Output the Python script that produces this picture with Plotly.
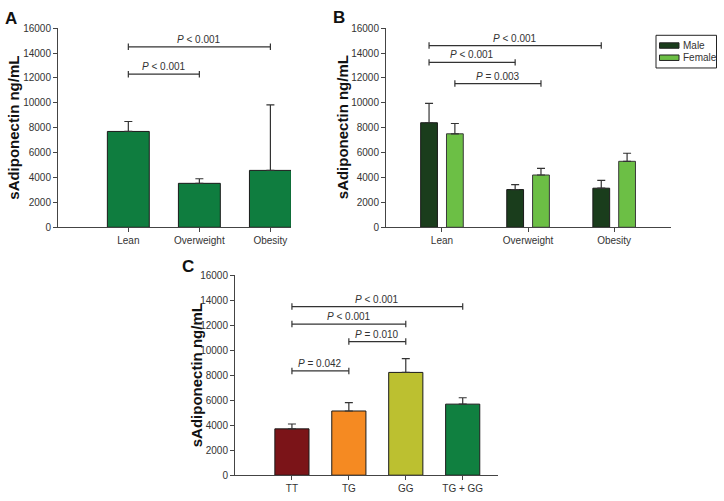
import plotly.graph_objects as go

# ---------------- data ----------------
a_categories = ["Lean", "Overweight", "Obesity"]
a_values = [7700, 3530, 4570]
a_errors = [800, 370, 5270]

b_categories = ["Lean", "Overweight", "Obesity"]
b_series = ["Male", "Female"]
b_male = [8400, 3030, 3140]
b_male_err = [1550, 390, 630]
b_female = [7510, 4200, 5300]
b_female_err = [830, 530, 650]
b_colors = ["#1a3d1c", "#6cbf45"]

c_categories = ["TT", "TG", "GG", "TG + GG"]
c_values = [3710, 5140, 8230, 5690]
c_errors = [390, 670, 1110, 510]
c_colors = ["#7b1418", "#f58a22", "#bcc030", "#108040"]

y_ticks = [0, 2000, 4000, 6000, 8000, 10000, 12000, 14000, 16000]
y_tick_labels = ["0", "2000", "4000", "6000", "8000", "10000", "12000", "14000", "16000"]

# significance brackets: (start position, end position, level, label)
a_brackets = [(0, 2, 14500, "<i>P</i> < 0.001"), (0, 1, 12300, "<i>P</i> < 0.001")]
b_brackets = [(-0.15, 1.85, 14600, "<i>P</i> < 0.001"),
              (-0.15, 0.85, 13250, "<i>P</i> < 0.001"),
              (0.15, 1.15, 11550, "<i>P</i> = 0.003")]
c_brackets = [(0, 3, 13500, "<i>P</i> < 0.001"), (0, 2, 12100, "<i>P</i> < 0.001"),
              (1, 2, 10700, "<i>P</i> = 0.010"), (0, 1, 8350, "<i>P</i> = 0.042")]

W, H = 724, 501
FONT = "Liberation Sans, Arial, sans-serif"
TXT = "#333333"
LINE = "#444444"

fig = go.Figure()

def err(arr):
    return dict(type="data", array=arr, arrayminus=[0] * len(arr), symmetric=False,
                color="#333333", thickness=1.2, width=4)

fig.add_trace(go.Bar(x=list(range(len(a_categories))), y=a_values, width=0.59,
                     marker=dict(color="#0f7d3f", line=dict(color="#1a1a1a", width=1)),
                     error_y=err(a_errors), showlegend=False, xaxis="x", yaxis="y"))
fig.add_trace(go.Bar(x=list(range(len(b_categories))), y=b_male, name=b_series[0],
                     marker=dict(color=b_colors[0], line=dict(color="#1a1a1a", width=1)),
                     error_y=err(b_male_err), showlegend=False, xaxis="x2", yaxis="y2"))
fig.add_trace(go.Bar(x=list(range(len(b_categories))), y=b_female, name=b_series[1],
                     marker=dict(color=b_colors[1], line=dict(color="#3a3a3a", width=1)),
                     error_y=err(b_female_err), showlegend=False, xaxis="x2", yaxis="y2"))
fig.add_trace(go.Bar(x=list(range(len(c_categories))), y=c_values, width=0.6,
                     marker=dict(color=c_colors, line=dict(color="#1a1a1a", width=1)),
                     error_y=err(c_errors), showlegend=False, xaxis="x3", yaxis="y3"))

def px_x(p):
    return p / W

def px_y(p):
    return 1 - p / H

common_y = dict(range=[0, 16000], tickvals=y_ticks, ticktext=y_tick_labels,
                showgrid=False, zeroline=False,
                showline=True, linecolor=LINE, linewidth=1, ticks="outside", ticklen=4,
                tickcolor=LINE, tickfont=dict(size=10, color=TXT, family=FONT))
common_x = dict(showgrid=False, zeroline=False, showline=True, linecolor=LINE, linewidth=1,
                ticks="outside", ticklen=4, tickcolor=LINE,
                tickfont=dict(size=10, color=TXT, family=FONT))

fig.update_layout(
    width=W, height=H, margin=dict(l=0, r=0, t=0, b=0),
    paper_bgcolor="white", plot_bgcolor="white",
    barmode="group", bargap=0.4, bargroupgap=0.35,
    font=dict(family=FONT, color=TXT),
    showlegend=False,
    xaxis=dict(domain=[px_x(58), px_x(291)], range=[-0.99, 2.29],
               tickvals=list(range(len(a_categories))), ticktext=a_categories,
               anchor="y", **common_x),
    yaxis=dict(domain=[px_y(226.7), px_y(22.7)], anchor="x", **common_y),
    xaxis2=dict(domain=[px_x(386), px_x(671)], range=[-0.65, 2.66],
                tickvals=list(range(len(b_categories))), ticktext=b_categories,
                anchor="y2", **common_x),
    yaxis2=dict(domain=[px_y(226.7), px_y(22.7)], anchor="x2", **common_y),
    xaxis3=dict(domain=[px_x(235), px_x(498)], range=[-1.0, 3.62],
                tickvals=list(range(len(c_categories))), ticktext=c_categories,
                anchor="y3", **common_x),
    yaxis3=dict(domain=[px_y(480.7), px_y(276)], anchor="x3", **common_y),
)

shapes = []
annotations = []
for brackets, xr, yr in [(a_brackets, "x", "y"), (b_brackets, "x2", "y2"), (c_brackets, "x3", "y3")]:
    for x0, x1, lvl, label in brackets:
        ln = dict(color="#333333", width=1.2)
        shapes.append(dict(type="line", xref=xr, yref=yr, x0=x0, x1=x1, y0=lvl, y1=lvl, line=ln))
        shapes.append(dict(type="line", xref=xr, yref=yr, x0=x0, x1=x0, y0=lvl - 260, y1=lvl + 260, line=ln))
        shapes.append(dict(type="line", xref=xr, yref=yr, x0=x1, x1=x1, y0=lvl - 260, y1=lvl + 260, line=ln))
        annotations.append(dict(xref=xr, yref=yr, x=(x0 + x1) / 2, y=lvl, text=label,
                                showarrow=False, xanchor="center", yanchor="bottom", yshift=0,
                                font=dict(size=10, color=TXT, family=FONT)))

# legend box for panel B (drawn with shapes and text)
shapes.append(dict(type="rect", xref="paper", yref="paper",
                   x0=px_x(656), x1=px_x(716.5), y0=px_y(63.5), y1=px_y(30),
                   line=dict(color="#222222", width=1), fillcolor="white"))
for i, (name, col) in enumerate(zip(b_series, b_colors)):
    mid = 40.5 + i * 12.5
    shapes.append(dict(type="rect", xref="paper", yref="paper",
                       x0=px_x(659.5), x1=px_x(679), y0=px_y(mid + 2.8), y1=px_y(mid - 2.8),
                       line=dict(color="#222222", width=1), fillcolor=col))
    annotations.append(dict(xref="paper", yref="paper", x=px_x(681.5), y=px_y(mid),
                            text=name, showarrow=False, xanchor="left", yanchor="middle",
                            borderpad=0,
                            font=dict(size=10, color=TXT, family=FONT)))

# y-axis titles and panel letters
for cx, cy in [(14, 124.7), (342.5, 124.7), (196, 378.3)]:
    annotations.append(dict(xref="paper", yref="paper", x=px_x(cx), y=px_y(cy),
                            text="<b>sAdiponectin ng/mL</b>", textangle=-90, showarrow=False,
                            xanchor="center", yanchor="middle",
                            font=dict(size=15, color="#111111", family=FONT)))
for letter, cx, cy in [("A", 11, 13), ("B", 339, 12), ("C", 187.5, 267)]:
    annotations.append(dict(xref="paper", yref="paper", x=px_x(cx), y=px_y(cy),
                            text="<b>" + letter + "</b>", showarrow=False,
                            xanchor="center", yanchor="middle",
                            font=dict(size=17, color="#111111", family=FONT)))

fig.update_layout(shapes=shapes, annotations=annotations)
fig.write_html("out.html", config={"displayModeBar": False},
               post_script="document.body.style.margin='0';document.body.style.overflow='hidden';")
